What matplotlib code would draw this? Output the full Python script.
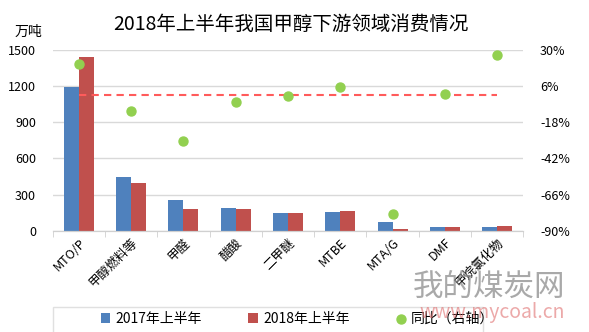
import numpy as np
import matplotlib.pyplot as plt
from matplotlib.patches import Rectangle

plt.rcParams['font.family'] = ['Noto Sans CJK SC', 'DejaVu Sans']

categories = ['MTO/P', '甲醇燃料等', '甲醛', '醋酸', '二甲醚', 'MTBE', 'MTA/G', 'DMF', '甲烷氯化物']
h1_2017 = [1195, 446, 255, 189, 147, 155, 72, 30, 30]
h1_2018 = [1440, 396, 180, 180, 147, 163, 14, 30, 38]
yoy = [20.5, -10.5, -30.2, -4.7, -0.7, 5.2, -79.0, 0.6, 27.0]
ref_level = 0.0

fig = plt.figure(figsize=(5.89, 3.32), dpi=100)
ax = fig.add_axes([0.0895, 0.3051, 0.7991, 0.5443])
ax2 = ax.twinx()

x = np.arange(len(categories))
w = 0.287
ax.bar(x - w / 2, h1_2017, w, color='#4f81bd', label='2017年上半年', zorder=2)
ax.bar(x + w / 2, h1_2018, w, color='#c0504d', label='2018年上半年', zorder=2)

ax2.plot([x[0], x[-1]], [ref_level, ref_level], color='#ff5b5b', lw=1.5,
         ls=(0, (3.5, 2.5)), zorder=3)
ax2.scatter(x, yoy, s=42, color='#92d050', label='同比（右轴）', zorder=4)

ax.set_xlim(-0.5, len(categories) - 0.5)
ax.set_ylim(0, 1500)
ax.set_yticks(np.arange(0, 1501, 300))
ax2.set_ylim(-90, 30)
ax2.set_yticks(np.arange(-90, 31, 24))
ax2.set_yticklabels(['%d%%' % v for v in np.arange(-90, 31, 24)])

ax.grid(axis='y', color='#d9d9d9', lw=1, zorder=0)
ax.set_axisbelow(True)
for a in (ax, ax2):
    for s in ('top', 'left', 'right'):
        a.spines[s].set_visible(False)
    a.spines['bottom'].set_color('#d0d0d0')

ax.set_xticks(x)
ax.set_xticklabels(categories, rotation=45, ha='right', va='top',
                   rotation_mode='anchor', fontsize=9)
ax.set_xticks(np.arange(-0.5, len(categories)), minor=True)
ax.tick_params(axis='x', which='major', length=0, pad=4)
ax.tick_params(axis='x', which='minor', length=4, color='#d0d0d0')
ax.tick_params(axis='y', length=0, labelsize=9, pad=12)
ax2.tick_params(axis='y', length=0, labelsize=9, pad=12)

fig.text(0.494, 0.925, '2018年上半年我国甲醇下游领域消费情况', ha='center', va='center', fontsize=14)
fig.text(0.048, 0.905, '万吨', ha='center', va='center', fontsize=10)

# watermark
fig.text(0.83, 0.135, '我的煤炭网', ha='center', va='center', fontsize=22,
         color='#8c8c8c', alpha=0.75, zorder=10)
fig.text(0.835, 0.06, 'www.mycoal.cn', ha='center', va='center', fontsize=14,
         color='#e07070', alpha=0.6, zorder=10)

# legend with a wide light frame
fig.patches.append(Rectangle((0.09, -0.01), 0.73, 0.085, transform=fig.transFigure,
                             fill=False, edgecolor='#e0e0e0', lw=1))
h = ax.get_legend_handles_labels()
h2 = ax2.get_legend_handles_labels()
fig.legend(h[0] + h2[0], h[1] + h2[1], loc='center', ncol=3,
           bbox_to_anchor=(0.505, 0.04), fontsize=10, frameon=False,
           handlelength=0.7, handleheight=0.7, columnspacing=3.3,
           handletextpad=0.4, borderpad=0.3)

fig.savefig('out.png', dpi=100)
